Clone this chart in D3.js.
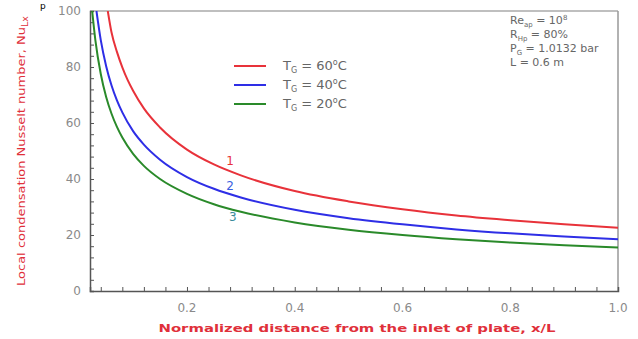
<!DOCTYPE html>
<html>
<head>
<meta charset="utf-8">
<script src="https://cdn.jsdelivr.net/npm/d3@7"></script>
<style>
  body { margin: 0; background: #fff; }
  text { font-family: "DejaVu Sans", Verdana, sans-serif; }
</style>
</head>
<body>
<div id="chart"></div>
<script>
// values
const xRed   = [0.053, 0.06, 0.07, 0.08, 0.09, 0.1, 0.12, 0.15, 0.2, 0.25, 0.3, 0.4, 0.5, 0.6, 0.7, 0.8, 0.9, 1.0];
const nuRed  = [100, 92.3, 85.4, 79.9, 75.3, 71.5, 65.2, 58.4, 50.5, 45.2, 41.3, 35.7, 32.0, 29.2, 27.0, 25.3, 23.8, 22.6];
const xBlue  = [0.032, 0.04, 0.05, 0.06, 0.07, 0.08, 0.1, 0.12, 0.15, 0.2, 0.25, 0.3, 0.4, 0.5, 0.6, 0.7, 0.8, 0.9, 1.0];
const nuBlue = [100, 89.6, 80.3, 73.4, 68.1, 63.8, 57.1, 52.3, 46.9, 40.7, 36.5, 33.4, 29.0, 26.0, 23.8, 22.0, 20.6, 19.5, 18.5];
const xGreen  = [0.024, 0.03, 0.04, 0.05, 0.06, 0.07, 0.08, 0.1, 0.12, 0.15, 0.2, 0.25, 0.3, 0.4, 0.5, 0.6, 0.7, 0.8, 0.9, 1.0];
const nuGreen = [100, 89.5, 77.5, 69.3, 63.3, 58.6, 54.8, 49.0, 44.7, 40.0, 34.7, 31.0, 28.3, 24.5, 21.9, 20.0, 18.5, 17.3, 16.3, 15.5];

const seriesNames = ["60", "40", "20"];
const curveLabels = ["1", "2", "3"];
const xTickLabels = [0.2, 0.4, 0.6, 0.8, 1.0];
const yTickLabels = [0, 20, 40, 60, 80, 100];
const notes = [
  ["Re", "ap", " = 10", "8"],
  ["R", "Hp", " = 80%", ""],
  ["P", "G", " = 1.0132 bar", ""],
  ["L", "", " = 0.6 m", ""]
];

const width = 638, height = 339;
const margin = {left: 90, right: 20, top: 11, bottom: 48};

const svg = d3.select("#chart").append("svg")
  .attr("width", width)
  .attr("height", height);

const x = d3.scaleLinear().domain([0.02, 1.0]).range([margin.left, width - margin.right]);
const y = d3.scaleLinear().domain([0, 100]).range([height - margin.bottom, margin.top]);

// frame
svg.append("line")
  .attr("x1", x(0.02)).attr("x2", x(1)).attr("y1", y(100)).attr("y2", y(100))
  .attr("stroke", "#aaa").attr("stroke-width", 1.5);
svg.append("line")
  .attr("x1", x(1)).attr("x2", x(1)).attr("y1", y(100)).attr("y2", y(0))
  .attr("stroke", "#999").attr("stroke-width", 1.5);

// axes, ticks inward
const xAxis = svg.append("g")
  .attr("transform", `translate(0,${y(0)})`)
  .call(d3.axisTop(x).tickValues(d3.range(1, 26).map(i => i * 0.04)).tickSize(4).tickFormat(""));
xAxis.select(".domain").attr("stroke", "#555").attr("stroke-width", 1.5);
xAxis.selectAll(".tick line").attr("stroke", "#555");

const yAxis = svg.append("g")
  .attr("transform", `translate(${x(0.02)},0)`)
  .call(d3.axisRight(y).tickValues(d3.range(0, 101, 4)).tickSize(4).tickFormat(""));
yAxis.select(".domain").attr("stroke", "#555").attr("stroke-width", 1.5);
yAxis.selectAll(".tick line").attr("stroke", "#555");

// tick labels
svg.append("g").selectAll("text")
  .data(xTickLabels)
  .enter().append("text")
  .attr("x", d => x(d))
  .attr("y", 312)
  .attr("text-anchor", "middle")
  .attr("font-size", 12)
  .attr("fill", "#8a8a8a")
  .text(d => d.toFixed(1));

svg.append("g").selectAll("text")
  .data(yTickLabels)
  .enter().append("text")
  .attr("x", 81)
  .attr("y", d => y(d) + 4)
  .attr("text-anchor", "end")
  .attr("font-size", 12)
  .attr("fill", "#8a8a8a")
  .text(d => d);

// axis titles
svg.append("text")
  .attr("x", 357)
  .attr("y", 332)
  .attr("text-anchor", "middle")
  .attr("font-size", 11)
  .attr("font-weight", "bold")
  .attr("fill", "#e0303a")
  .attr("textLength", 397)
  .attr("lengthAdjust", "spacingAndGlyphs")
  .text("Normalized distance from the inlet of plate, x/L");

const yTitle = svg.append("text")
  .attr("transform", "translate(25,151) rotate(-90)")
  .attr("text-anchor", "middle")
  .attr("font-size", 11)
  .attr("fill", "#e0303a")
  .attr("textLength", 270)
  .attr("lengthAdjust", "spacingAndGlyphs");
yTitle.append("tspan").text("Local condensation Nusselt number, Nu");
yTitle.append("tspan").attr("font-size", 8).attr("dy", 3).text("Lx");

// curves
svg.append("clipPath").attr("id", "plot")
  .append("rect")
  .attr("x", x(0.02)).attr("y", y(100))
  .attr("width", x(1) - x(0.02)).attr("height", y(0) - y(100));

const colors = ["#e8323a", "#2e2ee6", "#2a8a2a"];
const series = [
  d3.zip(xRed, nuRed),
  d3.zip(xBlue, nuBlue),
  d3.zip(xGreen, nuGreen)
];

const line = d3.line()
  .x(d => x(d[0]))
  .y(d => y(d[1]))
  .curve(d3.curveMonotoneX);

svg.append("g").attr("clip-path", "url(#plot)")
  .selectAll("path")
  .data(series)
  .enter().append("path")
  .attr("d", line)
  .attr("fill", "none")
  .attr("stroke", (d, i) => colors[i])
  .attr("stroke-width", 2);

// curve numbers
const labelColors = ["#e8323a", "#3a5ee0", "#3a8a9a"];
const labelPos = [[0.28, 45], [0.28, 36], [0.285, 25]];
svg.append("g").selectAll("text")
  .data(curveLabels)
  .enter().append("text")
  .attr("x", (d, i) => x(labelPos[i][0]))
  .attr("y", (d, i) => y(labelPos[i][1]))
  .attr("text-anchor", "middle")
  .attr("font-size", 12)
  .attr("fill", (d, i) => labelColors[i])
  .text(d => d);

// legend
const legend = svg.append("g");
seriesNames.forEach((name, i) => {
  const ly = 66 + i * 19;
  legend.append("line")
    .attr("x1", 234).attr("x2", 266)
    .attr("y1", ly).attr("y2", ly)
    .attr("stroke", colors[i]).attr("stroke-width", 2);
  const t = legend.append("text")
    .attr("x", 283).attr("y", ly + 4)
    .attr("font-size", 13)
    .attr("fill", "#666");
  t.append("tspan").text("T");
  t.append("tspan").attr("font-size", 8).attr("dy", 3).text("G");
  t.append("tspan").attr("dy", -3).text(" = " + name);
  t.append("tspan").attr("font-size", 8).attr("dy", -5).text("o");
  t.append("tspan").attr("dy", 5).text("C");
});

// conditions
notes.forEach((n, i) => {
  const t = svg.append("text")
    .attr("x", 510).attr("y", 24 + i * 14)
    .attr("font-size", 11)
    .attr("fill", "#666");
  t.append("tspan").text(n[0]);
  if (n[1]) t.append("tspan").attr("font-size", 7).attr("dy", 3).text(n[1]);
  t.append("tspan").attr("dy", n[1] ? -3 : 0).text(n[2]);
  if (n[3]) t.append("tspan").attr("font-size", 7).attr("dy", -4).text(n[3]);
});

// glyph from the page above
svg.append("text")
  .attr("x", 40).attr("y", 9)
  .attr("font-family", "Liberation Serif, serif")
  .attr("font-size", 9)
  .attr("fill", "#000")
  .text("p");
</script>
</body>
</html>
